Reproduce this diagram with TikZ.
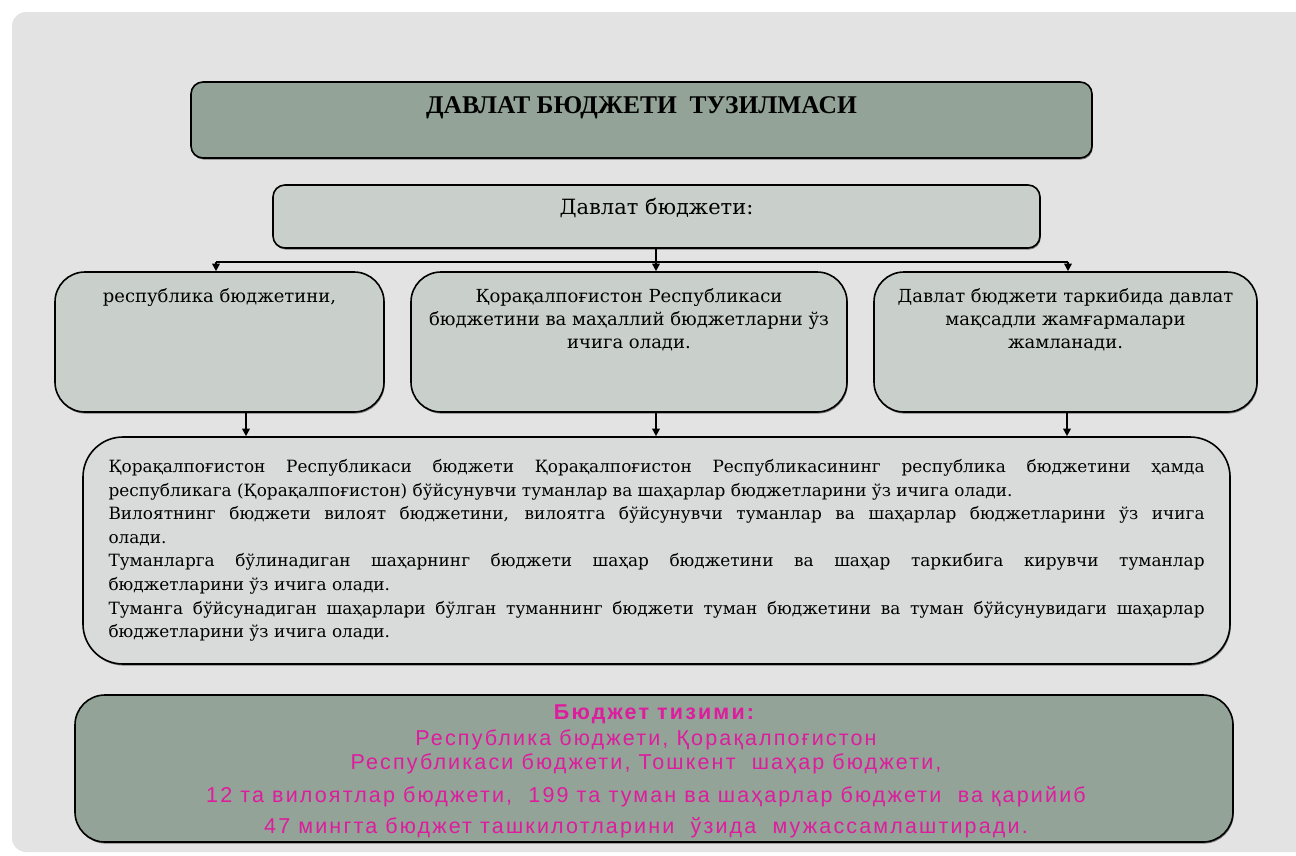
\documentclass[tikz,border=0pt]{standalone}
\usepackage{fontspec}
\setmainfont{DejaVu Serif}
\newfontfamily\titlefont{Liberation Serif}
\newfontfamily\sansf[LetterSpace=10]{Liberation Sans}
\usetikzlibrary{arrows.meta,shadows}
\definecolor{panel}{HTML}{E3E3E3}
\definecolor{darkfill}{HTML}{93A397}
\definecolor{lightfill}{HTML}{C9D0CB}
\definecolor{bigfill}{HTML}{D9DADA}
\definecolor{magtext}{HTML}{DD1C9E}
\tikzset{
  boxbase/.style={draw=black, line width=1.6pt, inner sep=0pt,
    drop shadow={shadow xshift=0.8pt, shadow yshift=-1.6pt, opacity=0.45, fill=black}},
  darkbox/.style={boxbase, fill=darkfill},
  lightbox/.style={boxbase, fill=lightfill},
  bigbox/.style={boxbase, fill=bigfill},
  txt/.style={font=\fontsize{18}{23}\selectfont, align=center, inner sep=0pt},
  conn/.style={line width=1.6pt},
  arr/.style={conn, -{Triangle[length=7.5pt,width=7.5pt]}},
}
\begin{document}
\begin{tikzpicture}[x=1pt,y=1pt]
\useasboundingbox (0,0) rectangle (1296,-855);
\fill[white] (0,0) rectangle (1296,-855);
\fill[panel, rounded corners=14pt] (12,-12) rectangle (1310,-852);

% title
\node[darkbox, rounded corners=12pt, minimum width=901pt, minimum height=76pt,
  label={[anchor=north, yshift=-15pt, inner sep=0pt, font=\titlefont\bfseries\fontsize{25.5}{28}\selectfont]north:ДАВЛАТ БЮДЖЕТИ\ \ ТУЗИЛМАСИ}]
  (title) at (641.5,-120) {};

% Davlat budjeti
\node[lightbox, rounded corners=12pt, minimum width=767pt, minimum height=63pt,
  label={[anchor=north, yshift=-14pt, txt, font=\fontsize{21}{24}\selectfont]north:Давлат бюджети:}]
  (dav) at (656.5,-216.5) {};

% three boxes
\node[lightbox, rounded corners=30pt, minimum width=329pt, minimum height=140pt,
  label={[anchor=north, yshift=-17pt, txt]north:республика бюджетини,}]
  (ba) at (219.5,-342) {};
\node[lightbox, rounded corners=30pt, minimum width=436pt, minimum height=140pt,
  label={[anchor=north, yshift=-17pt, txt]north:Қорақалпоғистон Республикаси\\бюджетини ва маҳаллий бюджетларни ўз\\ичига олади.}]
  (bb) at (629,-342) {};
\node[lightbox, rounded corners=30pt, minimum width=383pt, minimum height=140pt,
  label={[anchor=north, yshift=-17pt, txt]north:Давлат бюджети таркибида давлат\\мақсадли жамғармалари\\жамланади.}]
  (bc) at (1065.5,-342) {};

% big box
\node[bigbox, rounded corners=40pt, minimum width=1147pt, minimum height=227pt,
  inner xsep=25.5pt, text width=1096pt, align=justify,
  font=\fontsize{16.9}{23.6}\selectfont]
  (big) at (656.5,-550.5) {%
Қорақалпоғистон Республикаси бюджети Қорақалпоғистон Республикасининг республика бюджетини ҳамда\linebreak
республикага (Қорақалпоғистон) бўйсунувчи туманлар ва шаҳарлар бюджетларини ўз ичига олади.\par
Вилоятнинг бюджети вилоят бюджетини, вилоятга бўйсунувчи туманлар ва шаҳарлар бюджетларини ўз ичига\linebreak
олади.\par
Туманларга бўлинадиган шаҳарнинг бюджети шаҳар бюджетини ва шаҳар таркибига кирувчи туманлар\linebreak
бюджетларини ўз ичига олади.\par
Туманга бўйсунадиган шаҳарлари бўлган туманнинг бюджети туман бюджетини ва туман бўйсунувидаги шаҳарлар\linebreak
бюджетларини ўз ичига олади.};

% bottom box
\node[darkbox, rounded corners=30pt, minimum width=1158pt, minimum height=147pt,
  label={[anchor=north, xshift=-8pt, yshift=-10pt, inner sep=0pt, align=center, text=magtext,
    font=\sansf\fontsize{21.5}{25}\selectfont]north:%
\hspace*{16pt}{\bfseries Бюджет тизими:}\\[1pt]
Республика бюджети, Қорақалпоғистон\\[-1pt]
Республикаси бюджети, Тошкент\ \ шаҳар бюджети,\\[8pt]
12 та вилоятлар бюджети,\ \ 199 та туман ва шаҳарлар бюджети\ \ ва қарийиб\\[6pt]
47 мингта бюджет ташкилотларини\ \ ўзида\ \ мужассамлаштиради.}]
  (sys) at (654,-768.5) {};

% connectors
\coordinate (busA) at (216,-262);
\coordinate (busB) at (656,-262);
\coordinate (busC) at (1068,-262);
\draw[conn] (dav.south -| busB) -- (busB);
\draw[conn] (busA) -- (busC);
\draw[arr] (busA) -- (busA |- ba.north);
\draw[arr] (busB) -- (busB |- bb.north);
\draw[arr] (busC) -- (busC |- bc.north);

\coordinate (dA) at (246,-412);
\coordinate (dB) at (656,-412);
\coordinate (dC) at (1067,-412);
\draw[arr] (dA |- ba.south) -- (dA |- big.north);
\draw[arr] (dB |- bb.south) -- (dB |- big.north);
\draw[arr] (dC |- bc.south) -- (dC |- big.north);
\end{tikzpicture}
\end{document}
